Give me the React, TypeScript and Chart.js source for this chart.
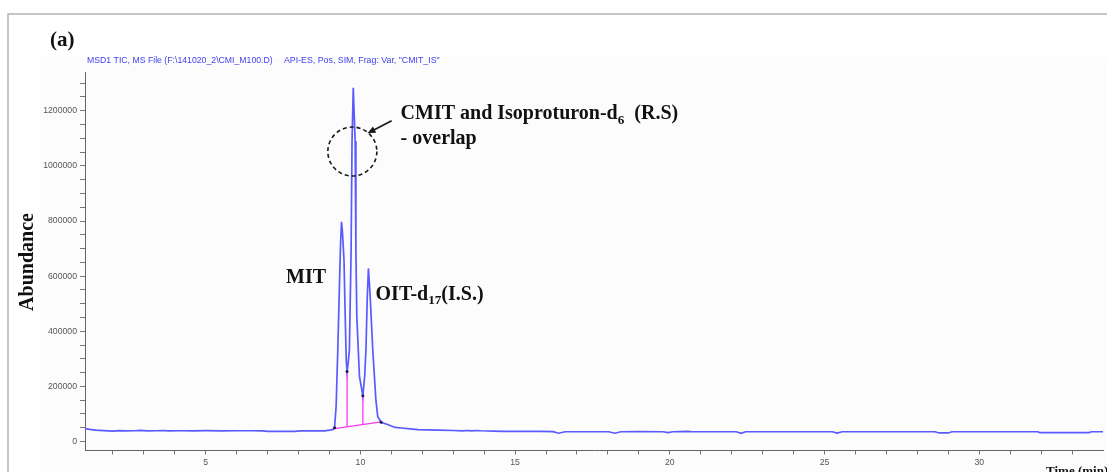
import React, { useEffect, useRef } from 'react';
import { Chart, registerables } from 'chart.js';

Chart.register(...registerables);

// ---- Data ----
const TIME = [
  1.10, 1.25, 1.45, 1.7, 2.0, 2.2, 2.4, 2.7, 2.9, 3.1, 3.4, 3.6, 3.8, 4.2, 4.6, 5.0, 5.5, 6.0, 6.5, 6.85,
  7.0, 7.9, 8.05, 8.5, 8.85, 9.05, 9.12,
  9.165, 9.216, 9.27, 9.325, 9.36, 9.39, 9.42, 9.47, 9.51, 9.545, 9.57,
  9.61, 9.645, 9.70, 9.73, 9.77, 9.83, 9.855, 9.885, 9.97, 10.08,
  10.14, 10.18, 10.22, 10.26, 10.31, 10.40, 10.50, 10.56, 10.67,
  10.9, 11.12, 11.33, 11.6, 11.86, 12.2, 12.5, 13.0, 13.3, 13.45, 13.6, 13.75, 13.9, 14.3, 14.64,
  15.2, 15.8, 16.23, 16.40, 16.62, 17.0, 18.02, 18.22, 18.42, 19.0, 19.78, 19.94, 20.1, 20.6, 20.7,
  21.5, 22.15, 22.30, 22.45, 25.25, 25.41, 25.57, 28.57, 28.7, 29.0, 29.12, 31.9, 31.95, 33.55, 33.62, 34.0,
];
const ABUNDANCE = [
  47000, 44000, 41000, 39500, 38000, 39500, 38500, 39000, 40500, 38500, 39000, 40000, 38500, 39000, 38800, 39200, 38800, 39000, 39000, 38500,
  36500, 36500, 38800, 38800, 38800, 42000, 44000,
  50000, 128000, 333000, 575000, 720000, 797000, 760000, 660000, 450000, 290000, 254000,
  290000, 333000, 694000, 1090000, 1283000, 1090000, 694000, 453000, 236000, 166000,
  240000, 333000, 514000, 628000, 540000, 333000, 152000, 91000, 70000,
  61000, 51000, 49000, 46000, 43000, 42000, 41000, 40000, 38500, 40000, 38500, 40000, 39000, 38000, 37000,
  37000, 36500, 36000, 30000, 35500, 35500, 35500, 30000, 35500, 36000, 35500, 32500, 35500, 36500, 35500,
  35500, 35500, 30000, 35500, 35500, 30500, 35500, 35500, 31000, 31000, 35500, 35500, 32000, 32000, 35500, 35500,
];

// integration marks (pink)
const INTEG_BASE_T = [9.165, 10.67];
const INTEG_BASE_V = [47000, 71000];
const SPLIT_T = [9.57, 10.08];
const SPLIT_TOP = [254000, 166000];
const SPLIT_BOTTOM = [53000, 62000];
const MARK_T = [9.165, 9.57, 10.08, 10.67];
const MARK_V = [50000, 254000, 166000, 70000];

// axes
const X_MIN = 1.10;
const X_MAX = 34.0;
const Y_MIN = -32600;
const Y_MAX = 1340600;
const X_TICKS = [2, 3, 4, 5, 6, 7, 8, 9, 10, 11, 12, 13, 14, 15, 16, 17, 18, 19, 20, 21, 22, 23, 24, 25, 26, 27, 28, 29, 30, 31, 32, 33];
const X_LABELED = [5, 10, 15, 20, 25, 30];
const Y_TICKS = [0, 50000, 100000, 150000, 200000, 250000, 300000, 350000, 400000, 450000, 500000, 550000, 600000, 650000, 700000, 750000, 800000, 850000, 900000, 950000, 1000000, 1050000, 1100000, 1150000, 1200000, 1250000, 1300000];
const Y_LABELED = [0, 200000, 400000, 600000, 800000, 1000000, 1200000];

const HEADER_LEFT = 'MSD1 TIC, MS File (F:\\141020_2\\CMI_M100.D)';
const HEADER_RIGHT = 'API-ES, Pos, SIM, Frag: Var, "CMIT_IS"';

const SERIF = '"Liberation Serif", "Times New Roman", serif';
const SANS = '"Liberation Sans", Arial, sans-serif';

type Part = { t: string; sub?: boolean };

function drawParts(ctx: CanvasRenderingContext2D, parts: Part[], x: number, y: number, size: number) {
  let cx = x;
  for (const p of parts) {
    const s = p.sub ? size * 0.66 : size;
    ctx.font = `bold ${s}px ${SERIF}`;
    ctx.fillText(p.t, cx, p.sub ? y + size * 0.22 : y);
    cx += ctx.measureText(p.t).width;
  }
}

function fitText(ctx: CanvasRenderingContext2D, text: string, x: number, y: number, width: number, weight: string) {
  ctx.font = `${weight} 10px ${SANS}`;
  const w = ctx.measureText(text).width;
  const size = (10 * width) / w;
  ctx.font = `${weight} ${size}px ${SANS}`;
  ctx.fillText(text, x, y);
}

const decorPlugin = {
  id: 'decor',
  beforeDraw(chart: any) {
    const ctx: CanvasRenderingContext2D = chart.ctx;
    ctx.save();
    ctx.fillStyle = '#ffffff';
    ctx.fillRect(0, 0, chart.width, chart.height);
    ctx.fillStyle = '#fcfcfc';
    ctx.fillRect(40, 57, chart.width - 40, chart.height - 57);
    ctx.strokeStyle = '#b4b4b4';
    ctx.lineWidth = 1.5;
    ctx.beginPath();
    ctx.moveTo(8, chart.height);
    ctx.lineTo(8, 14);
    ctx.lineTo(chart.width, 14);
    ctx.stroke();
    ctx.restore();
  },
  afterDraw(chart: any) {
    const ctx: CanvasRenderingContext2D = chart.ctx;
    const xs = chart.scales.x;
    const ys = chart.scales.y;
    const px = (t: number) => xs.getPixelForValue(t);
    const py = (v: number) => ys.getPixelForValue(v);
    ctx.save();

    // panel title
    ctx.fillStyle = '#111';
    ctx.textBaseline = 'alphabetic';
    ctx.textAlign = 'left';
    ctx.font = `bold 21px ${SERIF}`;
    ctx.fillText('(a)', 50, 46);

    // instrument header
    ctx.fillStyle = '#4242ee';
    ctx.textBaseline = 'middle';
    fitText(ctx, HEADER_LEFT, 87, 61, 186, 'normal');
    fitText(ctx, HEADER_RIGHT, 284, 61, 156, 'normal');

    // y-axis title
    ctx.fillStyle = '#111';
    ctx.save();
    ctx.translate(28, 262);
    ctx.rotate(-Math.PI / 2);
    ctx.textAlign = 'center';
    ctx.textBaseline = 'middle';
    ctx.font = `bold 20px ${SERIF}`;
    ctx.fillText('Abundance', 0, 0);
    ctx.restore();

    // x-axis title (cut off at the bottom edge)
    ctx.textAlign = 'left';
    ctx.textBaseline = 'top';
    ctx.font = `bold 13px ${SERIF}`;
    ctx.fillText('Time (min)', 1046, 465);

    // peak labels
    ctx.textBaseline = 'alphabetic';
    drawParts(ctx, [{ t: 'MIT' }], px(7.60), py(575000), 20);
    drawParts(ctx, [{ t: 'OIT-d' }, { t: '17', sub: true }, { t: '(I.S.)' }], px(10.49), py(514000), 20);
    drawParts(ctx, [{ t: 'CMIT and Isoproturon-d' }, { t: '6', sub: true }, { t: '  (R.S)' }], px(11.30), py(1169000), 20);
    drawParts(ctx, [{ t: '- overlap' }], px(11.30), py(1081000), 20);

    // dashed circle
    ctx.strokeStyle = '#1a1a1a';
    ctx.lineWidth = 1.6;
    ctx.setLineDash([4, 3]);
    ctx.beginPath();
    ctx.arc(px(9.74), py(1052000), 24.5, 0, Math.PI * 2);
    ctx.stroke();
    ctx.setLineDash([]);

    // arrow
    const x1 = px(11.01), y1 = py(1164000);
    const x2 = px(10.23), y2 = py(1118000);
    const ang = Math.atan2(y2 - y1, x2 - x1);
    ctx.lineWidth = 1.8;
    ctx.beginPath();
    ctx.moveTo(x1, y1);
    ctx.lineTo(x2 - Math.cos(ang) * 5, y2 - Math.sin(ang) * 5);
    ctx.stroke();
    ctx.fillStyle = '#1a1a1a';
    ctx.beginPath();
    ctx.moveTo(x2, y2);
    ctx.lineTo(x2 - Math.cos(ang) * 8 + Math.sin(ang) * 3.5, y2 - Math.sin(ang) * 8 - Math.cos(ang) * 3.5);
    ctx.lineTo(x2 - Math.cos(ang) * 8 - Math.sin(ang) * 3.5, y2 - Math.sin(ang) * 8 + Math.cos(ang) * 3.5);
    ctx.closePath();
    ctx.fill();

    ctx.restore();
  },
};

export default function App() {
  const ref = useRef<HTMLCanvasElement | null>(null);

  useEffect(() => {
    if (!ref.current) return;
    const trace = TIME.map((t, i) => ({ x: t, y: ABUNDANCE[i] }));
    const base = INTEG_BASE_T.map((t, i) => ({ x: t, y: INTEG_BASE_V[i] }));
    const splits = SPLIT_T.map((t, i) => [
      { x: t, y: SPLIT_BOTTOM[i] },
      { x: t, y: SPLIT_TOP[i] },
    ]);
    const marks = MARK_T.map((t, i) => ({ x: t, y: MARK_V[i] }));
    const pink = '#f33cf0';

    const tickFont = { family: SANS, size: 8.7 };

    const chart = new Chart(ref.current, {
      type: 'line',
      data: {
        datasets: [
          {
            data: trace,
            borderColor: '#5a5aff',
            borderWidth: 1.7,
            pointRadius: 0,
            tension: 0,
            order: 3,
          } as any,
          {
            data: base,
            borderColor: pink,
            borderWidth: 1.3,
            pointRadius: 0,
            order: 2,
          },
          ...splits.map((d) => ({
            data: d,
            borderColor: pink,
            borderWidth: 1.3,
            pointRadius: 0,
            order: 2,
          })),
          {
            data: marks,
            showLine: false,
            pointRadius: 1.5,
            pointBackgroundColor: '#1c1c55',
            pointBorderWidth: 0,
            order: 1,
          },
        ],
      },
      options: {
        animation: false,
        responsive: false,
        devicePixelRatio: 1,
        parsing: false as any,
        layout: { padding: { top: 72, left: 0, right: 0, bottom: 0 } },
        plugins: { legend: { display: false }, tooltip: { enabled: false } },
        scales: {
          x: {
            type: 'linear',
            min: X_MIN,
            max: X_MAX,
            afterFit: (s: any) => { s.height = 21.5; },
            afterBuildTicks: (s: any) => { s.ticks = X_TICKS.map((v) => ({ value: v })); },
            ticks: {
              autoSkip: false,
              maxRotation: 0,
              padding: 3,
              font: tickFont,
              color: '#555',
              callback: (v: any) => (X_LABELED.includes(Number(v)) ? String(v) : ''),
            },
            grid: { drawOnChartArea: false, drawTicks: true, tickLength: 4, color: '#777' },
            border: { display: true, color: '#666', width: 1 },
          },
          y: {
            type: 'linear',
            min: Y_MIN,
            max: Y_MAX,
            afterFit: (s: any) => { s.width = 85; },
            afterBuildTicks: (s: any) => { s.ticks = Y_TICKS.map((v) => ({ value: v })); },
            ticks: {
              autoSkip: false,
              padding: 3,
              font: tickFont,
              color: '#555',
              callback: (v: any) => (Y_LABELED.includes(Number(v)) ? String(v) : ''),
            },
            grid: { drawOnChartArea: false, drawTicks: true, tickLength: 5, color: '#777' },
            border: { display: true, color: '#666', width: 1 },
          },
        },
      },
      plugins: [decorPlugin],
    });
    return () => chart.destroy();
  }, []);

  return (
    <div style={{ position: 'fixed', left: 0, top: 0, width: 1107, height: 472, background: '#fff' }}>
      <canvas ref={ref} width={1107} height={472} style={{ display: 'block', width: 1107, height: 472 }} />
    </div>
  );
}
